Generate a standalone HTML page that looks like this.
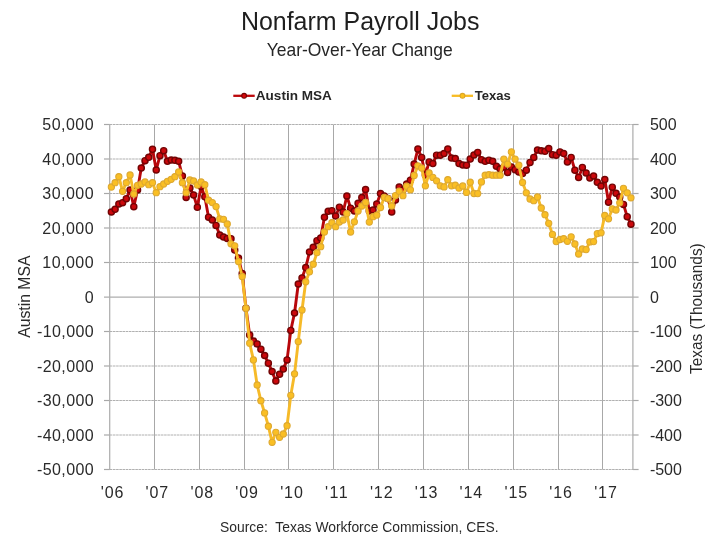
<!DOCTYPE html>
<html><head><meta charset="utf-8"><title>Nonfarm Payroll Jobs</title>
<style>html,body{margin:0;padding:0;background:#fff;}body{width:720px;height:540px;overflow:hidden;}svg{display:block;will-change:transform;}text{font-family:"Liberation Sans",sans-serif;}</style>
</head><body>
<svg width="720" height="540" viewBox="0 0 720 540">
<rect x="0" y="0" width="720" height="540" fill="#ffffff"/>
<text x="240.9" y="29.8" font-size="26.6" fill="#1E1E1E" textLength="238.6" lengthAdjust="spacingAndGlyphs">Nonfarm Payroll Jobs</text>
<text x="266.7" y="56.4" font-size="19" fill="#262626" textLength="186" lengthAdjust="spacingAndGlyphs">Year-Over-Year Change</text>
<line x1="233.3" y1="95.8" x2="254.7" y2="95.8" stroke="#BC070B" stroke-width="2.3"/>
<circle cx="244.1" cy="95.8" r="2.4" fill="#D8090D" stroke="#740404" stroke-width="1.1"/>
<text x="255.8" y="100.3" font-size="13" font-weight="bold" fill="#262626" textLength="76" lengthAdjust="spacingAndGlyphs">Austin MSA</text>
<line x1="451.7" y1="95.8" x2="473" y2="95.8" stroke="#F8BC24" stroke-width="2.3"/>
<circle cx="462.5" cy="95.8" r="2.4" fill="#FDC21A" stroke="#DBA62A" stroke-width="1.1"/>
<text x="474.7" y="100.3" font-size="13" font-weight="bold" fill="#262626" textLength="36" lengthAdjust="spacingAndGlyphs">Texas</text>
<g stroke="#A8A8A8" stroke-width="1" fill="none">
<line x1="154.50" y1="124.5" x2="154.50" y2="469.5"/>
<line x1="199.50" y1="124.5" x2="199.50" y2="469.5"/>
<line x1="244.50" y1="124.5" x2="244.50" y2="469.5"/>
<line x1="288.50" y1="124.5" x2="288.50" y2="469.5"/>
<line x1="333.50" y1="124.5" x2="333.50" y2="469.5"/>
<line x1="378.50" y1="124.5" x2="378.50" y2="469.5"/>
<line x1="423.50" y1="124.5" x2="423.50" y2="469.5"/>
<line x1="468.50" y1="124.5" x2="468.50" y2="469.5"/>
<line x1="513.50" y1="124.5" x2="513.50" y2="469.5"/>
<line x1="558.50" y1="124.5" x2="558.50" y2="469.5"/>
<line x1="602.50" y1="124.5" x2="602.50" y2="469.5"/>
</g>
<g stroke="#B0B0B0" stroke-width="1" stroke-dasharray="2.6 0.6" fill="none">
<line x1="109.7" y1="124.5" x2="632.9" y2="124.5"/>
<line x1="109.7" y1="159.0" x2="632.9" y2="159.0"/>
<line x1="109.7" y1="193.5" x2="632.9" y2="193.5"/>
<line x1="109.7" y1="228.0" x2="632.9" y2="228.0"/>
<line x1="109.7" y1="262.5" x2="632.9" y2="262.5"/>
<line x1="109.7" y1="331.5" x2="632.9" y2="331.5"/>
<line x1="109.7" y1="366.0" x2="632.9" y2="366.0"/>
<line x1="109.7" y1="400.5" x2="632.9" y2="400.5"/>
<line x1="109.7" y1="435.0" x2="632.9" y2="435.0"/>
<line x1="109.7" y1="469.5" x2="632.9" y2="469.5"/>
</g>
<g stroke="#A8A8A8" stroke-width="1.2" fill="none">
<line x1="104" y1="124.5" x2="109.7" y2="124.5"/>
<line x1="632.9" y1="124.5" x2="638.6" y2="124.5"/>
<line x1="104" y1="159.0" x2="109.7" y2="159.0"/>
<line x1="632.9" y1="159.0" x2="638.6" y2="159.0"/>
<line x1="104" y1="193.5" x2="109.7" y2="193.5"/>
<line x1="632.9" y1="193.5" x2="638.6" y2="193.5"/>
<line x1="104" y1="228.0" x2="109.7" y2="228.0"/>
<line x1="632.9" y1="228.0" x2="638.6" y2="228.0"/>
<line x1="104" y1="262.5" x2="109.7" y2="262.5"/>
<line x1="632.9" y1="262.5" x2="638.6" y2="262.5"/>
<line x1="104" y1="331.5" x2="109.7" y2="331.5"/>
<line x1="632.9" y1="331.5" x2="638.6" y2="331.5"/>
<line x1="104" y1="366.0" x2="109.7" y2="366.0"/>
<line x1="632.9" y1="366.0" x2="638.6" y2="366.0"/>
<line x1="104" y1="400.5" x2="109.7" y2="400.5"/>
<line x1="632.9" y1="400.5" x2="638.6" y2="400.5"/>
<line x1="104" y1="435.0" x2="109.7" y2="435.0"/>
<line x1="632.9" y1="435.0" x2="638.6" y2="435.0"/>
<line x1="104" y1="469.5" x2="109.7" y2="469.5"/>
<line x1="632.9" y1="469.5" x2="638.6" y2="469.5"/>
</g>
<g stroke="#AEAEAE" stroke-width="1.25" fill="none">
<line x1="109.7" y1="124.0" x2="109.7" y2="470.0"/>
<line x1="632.9" y1="124.0" x2="632.9" y2="470.0"/>
<line x1="104" y1="297.1" x2="638.6" y2="297.1"/>
</g>
<g font-size="16" fill="#2A2A2A">
<text x="42.37" y="130.4" textLength="51.23" lengthAdjust="spacing">50,000</text>
<text x="42.37" y="164.9" textLength="51.23" lengthAdjust="spacing">40,000</text>
<text x="42.37" y="199.4" textLength="51.23" lengthAdjust="spacing">30,000</text>
<text x="42.37" y="233.9" textLength="51.23" lengthAdjust="spacing">20,000</text>
<text x="42.37" y="268.4" textLength="51.23" lengthAdjust="spacing">10,000</text>
<text x="84.70" y="302.9" textLength="8.90" lengthAdjust="spacing">0</text>
<text x="37.04" y="337.4" textLength="56.56" lengthAdjust="spacing">-10,000</text>
<text x="37.04" y="371.9" textLength="56.56" lengthAdjust="spacing">-20,000</text>
<text x="37.04" y="406.4" textLength="56.56" lengthAdjust="spacing">-30,000</text>
<text x="37.04" y="440.9" textLength="56.56" lengthAdjust="spacing">-40,000</text>
<text x="37.04" y="475.4" textLength="56.56" lengthAdjust="spacing">-50,000</text>
</g>
<g font-size="16" fill="#2A2A2A" text-anchor="start">
<text x="649.9" y="130.4">500</text>
<text x="649.9" y="164.9">400</text>
<text x="649.9" y="199.4">300</text>
<text x="649.9" y="233.9">200</text>
<text x="649.9" y="268.4">100</text>
<text x="649.9" y="302.9">0</text>
<text x="649.9" y="337.4">-100</text>
<text x="649.9" y="371.9">-200</text>
<text x="649.9" y="406.4">-300</text>
<text x="649.9" y="440.9">-400</text>
<text x="649.9" y="475.4">-500</text>
</g>
<g font-size="16" fill="#2A2A2A">
<text x="100.75" y="497.6" textLength="22.65" lengthAdjust="spacing">&#39;06</text>
<text x="145.60" y="497.6" textLength="22.65" lengthAdjust="spacing">&#39;07</text>
<text x="190.46" y="497.6" textLength="22.65" lengthAdjust="spacing">&#39;08</text>
<text x="235.32" y="497.6" textLength="22.65" lengthAdjust="spacing">&#39;09</text>
<text x="280.17" y="497.6" textLength="22.65" lengthAdjust="spacing">&#39;10</text>
<text x="325.03" y="497.6" textLength="22.65" lengthAdjust="spacing">&#39;11</text>
<text x="369.89" y="497.6" textLength="22.65" lengthAdjust="spacing">&#39;12</text>
<text x="414.74" y="497.6" textLength="22.65" lengthAdjust="spacing">&#39;13</text>
<text x="459.60" y="497.6" textLength="22.65" lengthAdjust="spacing">&#39;14</text>
<text x="504.46" y="497.6" textLength="22.65" lengthAdjust="spacing">&#39;15</text>
<text x="549.32" y="497.6" textLength="22.65" lengthAdjust="spacing">&#39;16</text>
<text x="594.17" y="497.6" textLength="22.65" lengthAdjust="spacing">&#39;17</text>
</g>
<text transform="translate(30,337.8) rotate(-90)" font-size="16" fill="#2A2A2A" textLength="82.2" lengthAdjust="spacingAndGlyphs">Austin MSA</text>
<text transform="translate(701.7,374) rotate(-90)" font-size="16" fill="#2A2A2A" textLength="130.7" lengthAdjust="spacingAndGlyphs">Texas (Thousands)</text>
<text x="220" y="532.2" font-size="14.2" fill="#2A2A2A" textLength="278.7" lengthAdjust="spacingAndGlyphs" xml:space="preserve">Source:  Texas Workforce Commission, CES.</text>
<polyline points="111.37,212.00 115.11,209.30 118.85,204.00 122.58,202.70 126.32,198.70 130.06,190.00 133.80,206.70 137.54,190.00 141.27,168.00 145.01,160.70 148.75,157.30 152.49,149.30 156.23,170.00 159.96,155.70 163.70,150.70 167.44,161.30 171.18,160.00 174.92,160.30 178.65,161.30 182.39,176.00 186.13,197.50 189.87,188.00 193.61,195.00 197.34,207.30 201.08,186.50 204.82,196.70 208.56,217.20 212.30,220.00 216.04,225.40 219.77,235.00 223.51,237.00 227.25,238.50 230.99,238.70 234.73,250.00 238.46,258.00 242.20,273.50 245.94,308.30 249.68,334.90 253.42,341.00 257.15,343.90 260.89,349.20 264.63,355.50 268.37,363.20 272.11,371.60 275.84,381.00 279.58,374.30 283.32,369.10 287.06,359.90 290.80,330.40 294.54,313.00 298.27,284.00 302.01,277.90 305.75,267.60 309.49,252.00 313.23,247.30 316.96,240.70 320.70,238.00 324.44,217.30 328.18,211.30 331.92,210.70 335.65,216.00 339.39,207.20 343.13,212.00 346.87,196.00 350.61,208.20 354.34,211.00 358.08,203.30 361.82,197.50 365.56,189.50 369.30,211.00 373.03,210.00 376.77,204.00 380.51,193.50 384.25,196.00 387.99,198.50 391.73,212.00 395.46,200.00 399.20,187.00 402.94,190.00 406.68,184.00 410.42,180.20 414.15,164.10 417.89,149.10 421.63,157.40 425.37,175.00 429.11,161.90 432.84,163.60 436.58,155.20 440.32,155.20 444.06,153.60 447.80,149.10 451.53,158.00 455.27,158.60 459.01,163.60 462.75,165.00 466.49,165.20 470.23,159.10 473.96,155.00 477.70,152.40 481.44,159.70 485.18,161.30 488.92,160.20 492.65,161.30 496.39,166.30 500.13,169.00 503.87,167.00 507.61,172.40 511.34,166.90 515.08,169.70 518.82,172.00 522.56,173.60 526.30,170.20 530.03,162.40 533.77,157.40 537.51,150.00 541.25,150.80 544.99,151.30 548.72,148.60 552.46,154.70 556.20,155.20 559.94,151.90 563.68,153.60 567.42,161.90 571.15,157.40 574.89,170.20 578.63,177.40 582.37,167.40 586.11,173.00 589.84,178.00 593.58,176.00 597.32,182.30 601.06,186.00 604.80,179.50 608.53,202.20 612.27,187.20 616.01,193.30 619.75,197.00 623.49,204.40 627.22,216.70 630.96,224.20" fill="none" stroke="#B8070B" stroke-width="2.9" stroke-linejoin="round" stroke-linecap="round"/>
<g fill="#CC080C" stroke="#720404" stroke-width="1.4">
<circle cx="111.37" cy="212.00" r="3.05"/>
<circle cx="115.11" cy="209.30" r="3.05"/>
<circle cx="118.85" cy="204.00" r="3.05"/>
<circle cx="122.58" cy="202.70" r="3.05"/>
<circle cx="126.32" cy="198.70" r="3.05"/>
<circle cx="130.06" cy="190.00" r="3.05"/>
<circle cx="133.80" cy="206.70" r="3.05"/>
<circle cx="137.54" cy="190.00" r="3.05"/>
<circle cx="141.27" cy="168.00" r="3.05"/>
<circle cx="145.01" cy="160.70" r="3.05"/>
<circle cx="148.75" cy="157.30" r="3.05"/>
<circle cx="152.49" cy="149.30" r="3.05"/>
<circle cx="156.23" cy="170.00" r="3.05"/>
<circle cx="159.96" cy="155.70" r="3.05"/>
<circle cx="163.70" cy="150.70" r="3.05"/>
<circle cx="167.44" cy="161.30" r="3.05"/>
<circle cx="171.18" cy="160.00" r="3.05"/>
<circle cx="174.92" cy="160.30" r="3.05"/>
<circle cx="178.65" cy="161.30" r="3.05"/>
<circle cx="182.39" cy="176.00" r="3.05"/>
<circle cx="186.13" cy="197.50" r="3.05"/>
<circle cx="189.87" cy="188.00" r="3.05"/>
<circle cx="193.61" cy="195.00" r="3.05"/>
<circle cx="197.34" cy="207.30" r="3.05"/>
<circle cx="201.08" cy="186.50" r="3.05"/>
<circle cx="204.82" cy="196.70" r="3.05"/>
<circle cx="208.56" cy="217.20" r="3.05"/>
<circle cx="212.30" cy="220.00" r="3.05"/>
<circle cx="216.04" cy="225.40" r="3.05"/>
<circle cx="219.77" cy="235.00" r="3.05"/>
<circle cx="223.51" cy="237.00" r="3.05"/>
<circle cx="227.25" cy="238.50" r="3.05"/>
<circle cx="230.99" cy="238.70" r="3.05"/>
<circle cx="234.73" cy="250.00" r="3.05"/>
<circle cx="238.46" cy="258.00" r="3.05"/>
<circle cx="242.20" cy="273.50" r="3.05"/>
<circle cx="245.94" cy="308.30" r="3.05"/>
<circle cx="249.68" cy="334.90" r="3.05"/>
<circle cx="253.42" cy="341.00" r="3.05"/>
<circle cx="257.15" cy="343.90" r="3.05"/>
<circle cx="260.89" cy="349.20" r="3.05"/>
<circle cx="264.63" cy="355.50" r="3.05"/>
<circle cx="268.37" cy="363.20" r="3.05"/>
<circle cx="272.11" cy="371.60" r="3.05"/>
<circle cx="275.84" cy="381.00" r="3.05"/>
<circle cx="279.58" cy="374.30" r="3.05"/>
<circle cx="283.32" cy="369.10" r="3.05"/>
<circle cx="287.06" cy="359.90" r="3.05"/>
<circle cx="290.80" cy="330.40" r="3.05"/>
<circle cx="294.54" cy="313.00" r="3.05"/>
<circle cx="298.27" cy="284.00" r="3.05"/>
<circle cx="302.01" cy="277.90" r="3.05"/>
<circle cx="305.75" cy="267.60" r="3.05"/>
<circle cx="309.49" cy="252.00" r="3.05"/>
<circle cx="313.23" cy="247.30" r="3.05"/>
<circle cx="316.96" cy="240.70" r="3.05"/>
<circle cx="320.70" cy="238.00" r="3.05"/>
<circle cx="324.44" cy="217.30" r="3.05"/>
<circle cx="328.18" cy="211.30" r="3.05"/>
<circle cx="331.92" cy="210.70" r="3.05"/>
<circle cx="335.65" cy="216.00" r="3.05"/>
<circle cx="339.39" cy="207.20" r="3.05"/>
<circle cx="343.13" cy="212.00" r="3.05"/>
<circle cx="346.87" cy="196.00" r="3.05"/>
<circle cx="350.61" cy="208.20" r="3.05"/>
<circle cx="354.34" cy="211.00" r="3.05"/>
<circle cx="358.08" cy="203.30" r="3.05"/>
<circle cx="361.82" cy="197.50" r="3.05"/>
<circle cx="365.56" cy="189.50" r="3.05"/>
<circle cx="369.30" cy="211.00" r="3.05"/>
<circle cx="373.03" cy="210.00" r="3.05"/>
<circle cx="376.77" cy="204.00" r="3.05"/>
<circle cx="380.51" cy="193.50" r="3.05"/>
<circle cx="384.25" cy="196.00" r="3.05"/>
<circle cx="387.99" cy="198.50" r="3.05"/>
<circle cx="391.73" cy="212.00" r="3.05"/>
<circle cx="395.46" cy="200.00" r="3.05"/>
<circle cx="399.20" cy="187.00" r="3.05"/>
<circle cx="402.94" cy="190.00" r="3.05"/>
<circle cx="406.68" cy="184.00" r="3.05"/>
<circle cx="410.42" cy="180.20" r="3.05"/>
<circle cx="414.15" cy="164.10" r="3.05"/>
<circle cx="417.89" cy="149.10" r="3.05"/>
<circle cx="421.63" cy="157.40" r="3.05"/>
<circle cx="425.37" cy="175.00" r="3.05"/>
<circle cx="429.11" cy="161.90" r="3.05"/>
<circle cx="432.84" cy="163.60" r="3.05"/>
<circle cx="436.58" cy="155.20" r="3.05"/>
<circle cx="440.32" cy="155.20" r="3.05"/>
<circle cx="444.06" cy="153.60" r="3.05"/>
<circle cx="447.80" cy="149.10" r="3.05"/>
<circle cx="451.53" cy="158.00" r="3.05"/>
<circle cx="455.27" cy="158.60" r="3.05"/>
<circle cx="459.01" cy="163.60" r="3.05"/>
<circle cx="462.75" cy="165.00" r="3.05"/>
<circle cx="466.49" cy="165.20" r="3.05"/>
<circle cx="470.23" cy="159.10" r="3.05"/>
<circle cx="473.96" cy="155.00" r="3.05"/>
<circle cx="477.70" cy="152.40" r="3.05"/>
<circle cx="481.44" cy="159.70" r="3.05"/>
<circle cx="485.18" cy="161.30" r="3.05"/>
<circle cx="488.92" cy="160.20" r="3.05"/>
<circle cx="492.65" cy="161.30" r="3.05"/>
<circle cx="496.39" cy="166.30" r="3.05"/>
<circle cx="500.13" cy="169.00" r="3.05"/>
<circle cx="503.87" cy="167.00" r="3.05"/>
<circle cx="507.61" cy="172.40" r="3.05"/>
<circle cx="511.34" cy="166.90" r="3.05"/>
<circle cx="515.08" cy="169.70" r="3.05"/>
<circle cx="518.82" cy="172.00" r="3.05"/>
<circle cx="522.56" cy="173.60" r="3.05"/>
<circle cx="526.30" cy="170.20" r="3.05"/>
<circle cx="530.03" cy="162.40" r="3.05"/>
<circle cx="533.77" cy="157.40" r="3.05"/>
<circle cx="537.51" cy="150.00" r="3.05"/>
<circle cx="541.25" cy="150.80" r="3.05"/>
<circle cx="544.99" cy="151.30" r="3.05"/>
<circle cx="548.72" cy="148.60" r="3.05"/>
<circle cx="552.46" cy="154.70" r="3.05"/>
<circle cx="556.20" cy="155.20" r="3.05"/>
<circle cx="559.94" cy="151.90" r="3.05"/>
<circle cx="563.68" cy="153.60" r="3.05"/>
<circle cx="567.42" cy="161.90" r="3.05"/>
<circle cx="571.15" cy="157.40" r="3.05"/>
<circle cx="574.89" cy="170.20" r="3.05"/>
<circle cx="578.63" cy="177.40" r="3.05"/>
<circle cx="582.37" cy="167.40" r="3.05"/>
<circle cx="586.11" cy="173.00" r="3.05"/>
<circle cx="589.84" cy="178.00" r="3.05"/>
<circle cx="593.58" cy="176.00" r="3.05"/>
<circle cx="597.32" cy="182.30" r="3.05"/>
<circle cx="601.06" cy="186.00" r="3.05"/>
<circle cx="604.80" cy="179.50" r="3.05"/>
<circle cx="608.53" cy="202.20" r="3.05"/>
<circle cx="612.27" cy="187.20" r="3.05"/>
<circle cx="616.01" cy="193.30" r="3.05"/>
<circle cx="619.75" cy="197.00" r="3.05"/>
<circle cx="623.49" cy="204.40" r="3.05"/>
<circle cx="627.22" cy="216.70" r="3.05"/>
<circle cx="630.96" cy="224.20" r="3.05"/>
</g>
<polyline points="111.37,187.00 115.11,182.70 118.85,176.70 122.58,191.30 126.32,182.70 130.06,175.00 133.80,194.00 137.54,185.30 141.27,184.00 145.01,182.00 148.75,184.70 152.49,182.70 156.23,192.70 159.96,186.70 163.70,184.00 167.44,181.30 171.18,179.30 174.92,176.70 178.65,172.00 182.39,182.70 186.13,192.70 189.87,180.00 193.61,181.00 197.34,185.00 201.08,182.00 204.82,184.70 208.56,200.20 212.30,202.60 216.04,206.60 219.77,218.90 223.51,219.30 227.25,224.00 230.99,243.80 234.73,245.80 238.46,261.60 242.20,276.50 245.94,308.30 249.68,343.20 253.42,359.90 257.15,385.00 260.89,400.70 264.63,412.90 268.37,426.20 272.11,442.30 275.84,432.30 279.58,437.30 283.32,434.00 287.06,425.70 290.80,395.30 294.54,373.80 298.27,341.60 302.01,310.00 305.75,281.80 309.49,271.80 313.23,264.20 316.96,252.70 320.70,246.70 324.44,232.00 328.18,226.70 331.92,222.70 335.65,226.70 339.39,222.00 343.13,220.00 346.87,213.60 350.61,232.00 354.34,221.80 358.08,211.00 361.82,206.00 365.56,202.40 369.30,222.10 373.03,216.70 376.77,215.10 380.51,207.50 384.25,197.50 387.99,198.60 391.73,206.00 395.46,195.60 399.20,191.20 402.94,195.70 406.68,186.20 410.42,189.80 414.15,175.50 417.89,165.80 421.63,168.00 425.37,185.80 429.11,173.00 432.84,177.40 436.58,180.80 440.32,185.80 444.06,186.90 447.80,179.70 451.53,185.80 455.27,185.20 459.01,188.00 462.75,186.00 466.49,192.40 470.23,182.20 473.96,193.50 477.70,193.60 481.44,181.90 485.18,175.20 488.92,174.70 492.65,175.20 496.39,175.20 500.13,175.20 503.87,159.10 507.61,164.10 511.34,151.90 515.08,159.10 518.82,165.20 522.56,182.50 526.30,192.80 530.03,199.00 533.77,200.70 537.51,197.00 541.25,208.00 544.99,214.70 548.72,223.30 552.46,234.40 556.20,241.60 559.94,239.50 563.68,238.70 567.42,241.30 571.15,236.80 574.89,244.00 578.63,254.00 582.37,249.00 586.11,249.60 589.84,241.90 593.58,241.60 597.32,233.60 601.06,232.80 604.80,215.50 608.53,218.80 612.27,208.90 616.01,210.00 619.75,202.80 623.49,188.30 627.22,192.80 630.96,197.80" fill="none" stroke="#F6BA28" stroke-width="2.9" stroke-linejoin="round" stroke-linecap="round"/>
<g fill="#FABF24" stroke="#DDA830" stroke-width="1.1">
<circle cx="111.37" cy="187.00" r="3.1"/>
<circle cx="115.11" cy="182.70" r="3.1"/>
<circle cx="118.85" cy="176.70" r="3.1"/>
<circle cx="122.58" cy="191.30" r="3.1"/>
<circle cx="126.32" cy="182.70" r="3.1"/>
<circle cx="130.06" cy="175.00" r="3.1"/>
<circle cx="133.80" cy="194.00" r="3.1"/>
<circle cx="137.54" cy="185.30" r="3.1"/>
<circle cx="141.27" cy="184.00" r="3.1"/>
<circle cx="145.01" cy="182.00" r="3.1"/>
<circle cx="148.75" cy="184.70" r="3.1"/>
<circle cx="152.49" cy="182.70" r="3.1"/>
<circle cx="156.23" cy="192.70" r="3.1"/>
<circle cx="159.96" cy="186.70" r="3.1"/>
<circle cx="163.70" cy="184.00" r="3.1"/>
<circle cx="167.44" cy="181.30" r="3.1"/>
<circle cx="171.18" cy="179.30" r="3.1"/>
<circle cx="174.92" cy="176.70" r="3.1"/>
<circle cx="178.65" cy="172.00" r="3.1"/>
<circle cx="182.39" cy="182.70" r="3.1"/>
<circle cx="186.13" cy="192.70" r="3.1"/>
<circle cx="189.87" cy="180.00" r="3.1"/>
<circle cx="193.61" cy="181.00" r="3.1"/>
<circle cx="197.34" cy="185.00" r="3.1"/>
<circle cx="201.08" cy="182.00" r="3.1"/>
<circle cx="204.82" cy="184.70" r="3.1"/>
<circle cx="208.56" cy="200.20" r="3.1"/>
<circle cx="212.30" cy="202.60" r="3.1"/>
<circle cx="216.04" cy="206.60" r="3.1"/>
<circle cx="219.77" cy="218.90" r="3.1"/>
<circle cx="223.51" cy="219.30" r="3.1"/>
<circle cx="227.25" cy="224.00" r="3.1"/>
<circle cx="230.99" cy="243.80" r="3.1"/>
<circle cx="234.73" cy="245.80" r="3.1"/>
<circle cx="238.46" cy="261.60" r="3.1"/>
<circle cx="242.20" cy="276.50" r="3.1"/>
<circle cx="245.94" cy="308.30" r="3.1"/>
<circle cx="249.68" cy="343.20" r="3.1"/>
<circle cx="253.42" cy="359.90" r="3.1"/>
<circle cx="257.15" cy="385.00" r="3.1"/>
<circle cx="260.89" cy="400.70" r="3.1"/>
<circle cx="264.63" cy="412.90" r="3.1"/>
<circle cx="268.37" cy="426.20" r="3.1"/>
<circle cx="272.11" cy="442.30" r="3.1"/>
<circle cx="275.84" cy="432.30" r="3.1"/>
<circle cx="279.58" cy="437.30" r="3.1"/>
<circle cx="283.32" cy="434.00" r="3.1"/>
<circle cx="287.06" cy="425.70" r="3.1"/>
<circle cx="290.80" cy="395.30" r="3.1"/>
<circle cx="294.54" cy="373.80" r="3.1"/>
<circle cx="298.27" cy="341.60" r="3.1"/>
<circle cx="302.01" cy="310.00" r="3.1"/>
<circle cx="305.75" cy="281.80" r="3.1"/>
<circle cx="309.49" cy="271.80" r="3.1"/>
<circle cx="313.23" cy="264.20" r="3.1"/>
<circle cx="316.96" cy="252.70" r="3.1"/>
<circle cx="320.70" cy="246.70" r="3.1"/>
<circle cx="324.44" cy="232.00" r="3.1"/>
<circle cx="328.18" cy="226.70" r="3.1"/>
<circle cx="331.92" cy="222.70" r="3.1"/>
<circle cx="335.65" cy="226.70" r="3.1"/>
<circle cx="339.39" cy="222.00" r="3.1"/>
<circle cx="343.13" cy="220.00" r="3.1"/>
<circle cx="346.87" cy="213.60" r="3.1"/>
<circle cx="350.61" cy="232.00" r="3.1"/>
<circle cx="354.34" cy="221.80" r="3.1"/>
<circle cx="358.08" cy="211.00" r="3.1"/>
<circle cx="361.82" cy="206.00" r="3.1"/>
<circle cx="365.56" cy="202.40" r="3.1"/>
<circle cx="369.30" cy="222.10" r="3.1"/>
<circle cx="373.03" cy="216.70" r="3.1"/>
<circle cx="376.77" cy="215.10" r="3.1"/>
<circle cx="380.51" cy="207.50" r="3.1"/>
<circle cx="384.25" cy="197.50" r="3.1"/>
<circle cx="387.99" cy="198.60" r="3.1"/>
<circle cx="391.73" cy="206.00" r="3.1"/>
<circle cx="395.46" cy="195.60" r="3.1"/>
<circle cx="399.20" cy="191.20" r="3.1"/>
<circle cx="402.94" cy="195.70" r="3.1"/>
<circle cx="406.68" cy="186.20" r="3.1"/>
<circle cx="410.42" cy="189.80" r="3.1"/>
<circle cx="414.15" cy="175.50" r="3.1"/>
<circle cx="417.89" cy="165.80" r="3.1"/>
<circle cx="421.63" cy="168.00" r="3.1"/>
<circle cx="425.37" cy="185.80" r="3.1"/>
<circle cx="429.11" cy="173.00" r="3.1"/>
<circle cx="432.84" cy="177.40" r="3.1"/>
<circle cx="436.58" cy="180.80" r="3.1"/>
<circle cx="440.32" cy="185.80" r="3.1"/>
<circle cx="444.06" cy="186.90" r="3.1"/>
<circle cx="447.80" cy="179.70" r="3.1"/>
<circle cx="451.53" cy="185.80" r="3.1"/>
<circle cx="455.27" cy="185.20" r="3.1"/>
<circle cx="459.01" cy="188.00" r="3.1"/>
<circle cx="462.75" cy="186.00" r="3.1"/>
<circle cx="466.49" cy="192.40" r="3.1"/>
<circle cx="470.23" cy="182.20" r="3.1"/>
<circle cx="473.96" cy="193.50" r="3.1"/>
<circle cx="477.70" cy="193.60" r="3.1"/>
<circle cx="481.44" cy="181.90" r="3.1"/>
<circle cx="485.18" cy="175.20" r="3.1"/>
<circle cx="488.92" cy="174.70" r="3.1"/>
<circle cx="492.65" cy="175.20" r="3.1"/>
<circle cx="496.39" cy="175.20" r="3.1"/>
<circle cx="500.13" cy="175.20" r="3.1"/>
<circle cx="503.87" cy="159.10" r="3.1"/>
<circle cx="507.61" cy="164.10" r="3.1"/>
<circle cx="511.34" cy="151.90" r="3.1"/>
<circle cx="515.08" cy="159.10" r="3.1"/>
<circle cx="518.82" cy="165.20" r="3.1"/>
<circle cx="522.56" cy="182.50" r="3.1"/>
<circle cx="526.30" cy="192.80" r="3.1"/>
<circle cx="530.03" cy="199.00" r="3.1"/>
<circle cx="533.77" cy="200.70" r="3.1"/>
<circle cx="537.51" cy="197.00" r="3.1"/>
<circle cx="541.25" cy="208.00" r="3.1"/>
<circle cx="544.99" cy="214.70" r="3.1"/>
<circle cx="548.72" cy="223.30" r="3.1"/>
<circle cx="552.46" cy="234.40" r="3.1"/>
<circle cx="556.20" cy="241.60" r="3.1"/>
<circle cx="559.94" cy="239.50" r="3.1"/>
<circle cx="563.68" cy="238.70" r="3.1"/>
<circle cx="567.42" cy="241.30" r="3.1"/>
<circle cx="571.15" cy="236.80" r="3.1"/>
<circle cx="574.89" cy="244.00" r="3.1"/>
<circle cx="578.63" cy="254.00" r="3.1"/>
<circle cx="582.37" cy="249.00" r="3.1"/>
<circle cx="586.11" cy="249.60" r="3.1"/>
<circle cx="589.84" cy="241.90" r="3.1"/>
<circle cx="593.58" cy="241.60" r="3.1"/>
<circle cx="597.32" cy="233.60" r="3.1"/>
<circle cx="601.06" cy="232.80" r="3.1"/>
<circle cx="604.80" cy="215.50" r="3.1"/>
<circle cx="608.53" cy="218.80" r="3.1"/>
<circle cx="612.27" cy="208.90" r="3.1"/>
<circle cx="616.01" cy="210.00" r="3.1"/>
<circle cx="619.75" cy="202.80" r="3.1"/>
<circle cx="623.49" cy="188.30" r="3.1"/>
<circle cx="627.22" cy="192.80" r="3.1"/>
<circle cx="630.96" cy="197.80" r="3.1"/>
</g>
</svg>
</body></html>
